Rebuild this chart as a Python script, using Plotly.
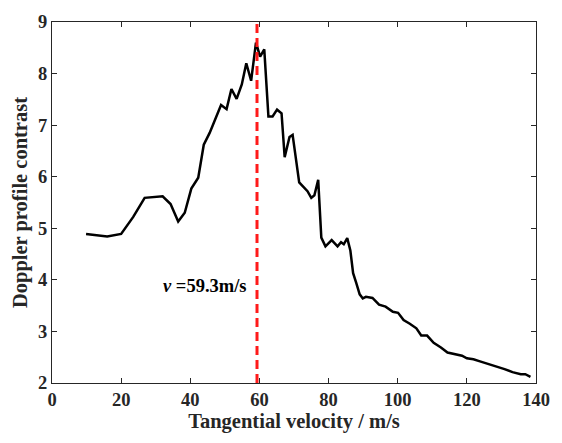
import plotly.graph_objects as go

velocity = [9.85, 15.97, 20.0, 23.5, 26.8, 32.0, 34.3, 36.5, 38.4, 40.3, 42.3, 43.9, 45.6, 47.2,
            48.9, 50.5, 51.9, 53.4, 54.9, 56.2, 57.6, 59.0, 60.2, 61.4, 62.6, 63.8, 65.1, 66.4,
            67.3, 68.7, 69.6, 71.5, 72.9, 73.9, 75.0, 75.9, 77.0, 77.9, 79.1, 80.9, 82.6, 83.6,
            84.4, 85.4, 86.3, 87.1, 88.0, 89.0, 89.9, 90.8, 92.7, 94.6, 96.5, 98.6, 100.1, 101.7,
            103.5, 105.4, 106.8, 108.5, 110.4, 112.5, 114.4, 116.7, 118.6, 120.0, 121.9, 123.8,
            126.1, 128.9, 130.9, 133.2, 135.6, 136.9, 138.4]
contrast = [4.89, 4.84, 4.89, 5.22, 5.59, 5.62, 5.47, 5.13, 5.30, 5.77, 5.98, 6.62, 6.85, 7.12,
            7.39, 7.31, 7.70, 7.51, 7.79, 8.20, 7.86, 8.60, 8.33, 8.47, 7.17, 7.17, 7.30, 7.23,
            6.38, 6.77, 6.81, 5.89, 5.80, 5.72, 5.59, 5.64, 5.94, 4.82, 4.65, 4.77, 4.65, 4.73,
            4.69, 4.81, 4.57, 4.13, 3.94, 3.72, 3.64, 3.67, 3.65, 3.52, 3.48, 3.38, 3.36, 3.22,
            3.15, 3.06, 2.92, 2.92, 2.78, 2.69, 2.59, 2.55, 2.53, 2.48, 2.46, 2.42,
            2.37, 2.32, 2.27, 2.21, 2.17, 2.17, 2.12]
x_ticks = [0, 20, 40, 60, 80, 100, 120, 140]
y_ticks = [2, 3, 4, 5, 6, 7, 8, 9]
v_opt = 59.3
label_text = "<i>v</i> =59.3m/s"

FONT = "Liberation Serif"
AX = "#262626"

fig = go.Figure()
fig.add_trace(go.Scatter(x=velocity, y=contrast, mode="lines",
                         line=dict(color="black", width=2.5), showlegend=False))
fig.add_shape(type="line", x0=v_opt, x1=v_opt, y0=2, y1=9, xref="x", yref="y",
              line=dict(color="#ff1a1a", width=3, dash="9px,5px"))
fig.add_annotation(x=31.4, y=3.89, xref="x", yref="y", text="<b>" + label_text + "</b>",
                   showarrow=False, xanchor="left", yanchor="middle",
                   font=dict(family=FONT, size=18.5, color="black"))

axis_common = dict(showline=True, linecolor=AX, linewidth=1, mirror="ticks",
                   ticks="inside", ticklen=5, tickcolor=AX, showgrid=False, zeroline=False,
                   tickfont=dict(family=FONT, size=18.5, color=AX))
fig.update_xaxes(range=[0, 140], tickvals=x_ticks,
                 title=dict(text="<b>Tangential velocity / m/s</b>",
                            font=dict(family=FONT, size=20.5, color=AX), standoff=4),
                 ticktext=[f"<b>{t}</b>" for t in x_ticks], **axis_common)
fig.update_yaxes(range=[2, 9], tickvals=y_ticks,
                 title=dict(text="<b>Doppler profile contrast</b>",
                            font=dict(family=FONT, size=20.5, color=AX), standoff=4),
                 ticktext=[f"<b>{t}</b>" for t in y_ticks], **axis_common)
fig.update_layout(width=562, height=443, margin=dict(l=52, r=16, t=12, b=60),
                  plot_bgcolor="white", paper_bgcolor="white")
fig.write_html("out.html")
